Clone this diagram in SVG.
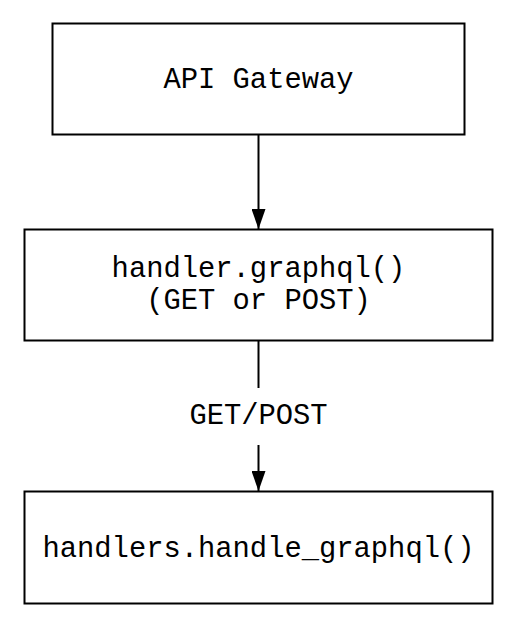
<svg xmlns="http://www.w3.org/2000/svg" width="516" height="627" viewBox="0 0 516 627">
<style>
.box{fill:#fff;stroke:#000;stroke-width:2}
.lbl{font-family:"Liberation Mono","Courier New",monospace;font-size:28.8px;fill:#000;text-anchor:middle}
.edge{stroke:#000;stroke-width:2;fill:none}
</style>
<defs>
<marker id="ah" markerUnits="userSpaceOnUse" markerWidth="20" markerHeight="14" refX="20" refY="7" viewBox="0 0 20 14" orient="auto">
<path d="M0,0 L20,7 L0,14 Z" fill="#000"/>
</marker>
</defs>
<rect width="516" height="627" fill="#fff"/>
<g id="edges">
<line class="edge" x1="258.5" y1="135" x2="258.5" y2="229" marker-end="url(#ah)"/>
<line class="edge" x1="258.5" y1="341" x2="258.5" y2="388"/>
<line class="edge" x1="258.5" y1="445" x2="258.5" y2="491" marker-end="url(#ah)"/>
<text class="lbl" x="258.5" y="424">GET/POST</text>
</g>
<g id="api_gateway">
<rect class="box" x="52.5" y="23.5" width="412" height="111"/>
<text class="lbl" x="258.5" y="88">API Gateway</text>
</g>
<g id="handler_graphql">
<rect class="box" x="24.5" y="229.5" width="468" height="111"/>
<text class="lbl" x="258.5" y="277">handler.graphql()</text>
<text class="lbl" x="258.5" y="309">(GET or POST)</text>
</g>
<g id="handlers_handle_graphql">
<rect class="box" x="24.5" y="491.5" width="468" height="112"/>
<text class="lbl" x="258.5" y="557">handlers.handle_graphql()</text>
</g>
</svg>
